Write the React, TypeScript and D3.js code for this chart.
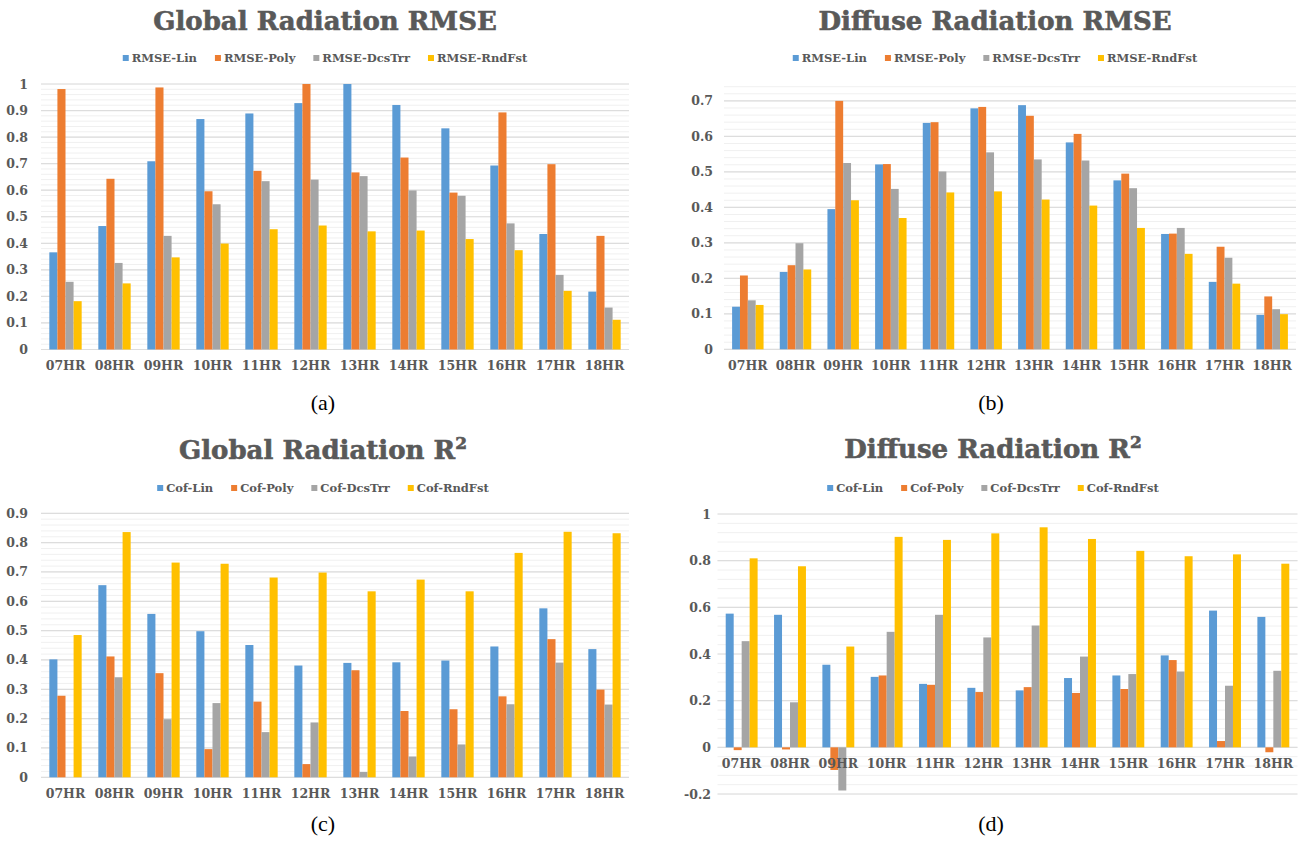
import React, { useRef, useEffect } from 'react';
import * as d3 from 'd3';

const hours = ['07HR', '08HR', '09HR', '10HR', '11HR', '12HR', '13HR', '14HR', '15HR', '16HR', '17HR', '18HR'];
const rmseNames = ['RMSE-Lin', 'RMSE-Poly', 'RMSE-DcsTrr', 'RMSE-RndFst'];
const cofNames = ['Cof-Lin', 'Cof-Poly', 'Cof-DcsTrr', 'Cof-RndFst'];
const colors = ['#5B9BD5', '#ED7D31', '#A5A5A5', '#FFC000'];

// (a) Global Radiation RMSE
const globalRmseLin = [0.366, 0.465, 0.709, 0.868, 0.889, 0.928, 1.0, 0.921, 0.833, 0.693, 0.435, 0.218];
const globalRmsePoly = [0.981, 0.643, 0.987, 0.596, 0.673, 1.0, 0.667, 0.723, 0.591, 0.893, 0.698, 0.428];
const globalRmseDcs = [0.255, 0.326, 0.428, 0.547, 0.634, 0.64, 0.653, 0.599, 0.579, 0.475, 0.281, 0.158];
const globalRmseRnd = [0.182, 0.249, 0.347, 0.399, 0.453, 0.467, 0.445, 0.448, 0.416, 0.374, 0.221, 0.112];

// (b) Diffuse Radiation RMSE
const diffuseRmseLin = [0.12, 0.218, 0.395, 0.521, 0.638, 0.679, 0.688, 0.583, 0.476, 0.325, 0.19, 0.097];
const diffuseRmsePoly = [0.208, 0.237, 0.7, 0.522, 0.64, 0.683, 0.658, 0.607, 0.495, 0.326, 0.289, 0.149];
const diffuseRmseDcs = [0.138, 0.299, 0.525, 0.452, 0.501, 0.555, 0.535, 0.532, 0.454, 0.342, 0.258, 0.113];
const diffuseRmseRnd = [0.125, 0.225, 0.42, 0.37, 0.442, 0.445, 0.422, 0.405, 0.342, 0.269, 0.185, 0.099];

// (c) Global Radiation R2
const globalCofLin = [0.402, 0.655, 0.557, 0.498, 0.451, 0.381, 0.39, 0.392, 0.398, 0.446, 0.576, 0.437];
const globalCofPoly = [0.278, 0.412, 0.355, 0.096, 0.258, 0.045, 0.365, 0.226, 0.232, 0.276, 0.471, 0.299];
const globalCofDcs = [0, 0.341, 0.198, 0.253, 0.154, 0.187, 0.018, 0.071, 0.112, 0.249, 0.391, 0.248];
const globalCofRnd = [0.485, 0.836, 0.732, 0.728, 0.681, 0.698, 0.634, 0.674, 0.634, 0.765, 0.837, 0.832];

// (d) Diffuse Radiation R2
const diffuseCofLin = [0.573, 0.568, 0.354, 0.302, 0.272, 0.255, 0.244, 0.297, 0.308, 0.394, 0.586, 0.559];
const diffuseCofPoly = [-0.012, -0.009, -0.097, 0.308, 0.268, 0.237, 0.258, 0.233, 0.25, 0.374, 0.027, -0.021];
const diffuseCofDcs = [0.455, 0.193, -0.185, 0.495, 0.568, 0.471, 0.522, 0.389, 0.314, 0.325, 0.264, 0.328];
const diffuseCofRnd = [0.81, 0.776, 0.432, 0.902, 0.889, 0.917, 0.943, 0.893, 0.842, 0.819, 0.827, 0.787];

const ticksA = [0, 0.1, 0.2, 0.3, 0.4, 0.5, 0.6, 0.7, 0.8, 0.9, 1];
const ticksB = [0, 0.1, 0.2, 0.3, 0.4, 0.5, 0.6, 0.7];
const ticksC = [0, 0.1, 0.2, 0.3, 0.4, 0.5, 0.6, 0.7, 0.8, 0.9];
const ticksD = [-0.2, 0, 0.2, 0.4, 0.6, 0.8, 1];

const panels = [
  {
    title: 'Global Radiation RMSE', sup: '', letter: '(a)', names: rmseNames,
    values: [globalRmseLin, globalRmsePoly, globalRmseDcs, globalRmseRnd],
    ticks: ticksA, domain: [0, 1], minor: 0.02,
    x: [41, 629], y: [349.5, 84], labelRight: 28, center: 325,
    titleY: 30, legendY: 58, xLabelY: 370, letterX: 323, letterY: 410,
  },
  {
    title: 'Diffuse Radiation RMSE', sup: '', letter: '(b)', names: rmseNames,
    values: [diffuseRmseLin, diffuseRmsePoly, diffuseRmseDcs, diffuseRmseRnd],
    ticks: ticksB, domain: [0, 0.74], minor: 0.02,
    x: [724, 1296], y: [349.3, 86.7], labelRight: 713, center: 995,
    titleY: 30, legendY: 58, xLabelY: 370, letterX: 991, letterY: 410,
  },
  {
    title: 'Global Radiation R', sup: '2', letter: '(c)', names: cofNames,
    values: [globalCofLin, globalCofPoly, globalCofDcs, globalCofRnd],
    ticks: ticksC, domain: [0, 0.9], minor: 0.02,
    x: [41, 629], y: [777.3, 513.3], labelRight: 28, center: 323,
    titleY: 459, legendY: 488, xLabelY: 798, letterX: 323, letterY: 831,
  },
  {
    title: 'Diffuse Radiation R', sup: '2', letter: '(d)', names: cofNames,
    values: [diffuseCofLin, diffuseCofPoly, diffuseCofDcs, diffuseCofRnd],
    ticks: ticksD, domain: [-0.2, 1], minor: 0.04,
    x: [717.5, 1297.5], y: [794, 514], labelRight: 711, center: 993,
    titleY: 458, legendY: 488, xLabelY: 768, letterX: 991, letterY: 831,
  },
];

const FONT = "'DejaVu Serif', serif";
const TEXT = '#595959';

const App = () => {
  const ref = useRef(null);

  useEffect(() => {
    const svg = d3.select(ref.current);
    svg.selectAll('*').remove();

    panels.forEach(p => {
      const g = svg.append('g');
      const y = d3.scaleLinear().domain(p.domain).range(p.y);
      const x0 = d3.scaleBand().domain(hours).range(p.x).paddingInner(0.34).paddingOuter(0.17);
      const x1 = d3.scaleBand().domain(p.names).range([0, x0.bandwidth()]);

      // minor gridlines
      const minors = d3.range(p.domain[0], p.domain[1] + 1e-9, p.minor);
      g.append('g').selectAll('line').data(minors).enter().append('line')
        .attr('x1', p.x[0]).attr('x2', p.x[1])
        .attr('y1', d => y(d)).attr('y2', d => y(d))
        .attr('stroke', '#F0F0F0').attr('stroke-width', 1);

      // major gridlines
      g.append('g').selectAll('line').data(p.ticks).enter().append('line')
        .attr('x1', p.x[0]).attr('x2', p.x[1])
        .attr('y1', d => y(d)).attr('y2', d => y(d))
        .attr('stroke', '#DDDDDD').attr('stroke-width', 1.2);

      // y labels
      g.append('g').selectAll('text').data(p.ticks).enter().append('text')
        .attr('x', p.labelRight).attr('y', d => y(d) + 4.5)
        .attr('text-anchor', 'end')
        .style('font-family', FONT).style('font-size', '12.5px').style('font-weight', 'bold')
        .attr('fill', TEXT)
        .text(d => String(d));

      // bars
      const groups = g.append('g').selectAll('g').data(hours).enter().append('g')
        .attr('transform', d => `translate(${x0(d)},0)`);
      groups.selectAll('rect')
        .data((d, i) => p.names.map((n, k) => ({ name: n, k, v: p.values[k][i] })))
        .enter().append('rect')
        .attr('x', d => x1(d.name))
        .attr('width', x1.bandwidth())
        .attr('y', d => Math.min(y(d.v), y(0)))
        .attr('height', d => Math.abs(y(d.v) - y(0)))
        .attr('fill', d => colors[d.k]);

      // x labels
      g.append('g').selectAll('text').data(hours).enter().append('text')
        .attr('x', d => x0(d) + x0.bandwidth() / 2).attr('y', p.xLabelY)
        .attr('text-anchor', 'middle')
        .style('font-family', FONT).style('font-size', '12.5px').style('font-weight', 'bold')
        .attr('fill', TEXT)
        .text(d => d);

      // title
      const t = g.append('text')
        .attr('x', p.center).attr('y', p.titleY)
        .attr('text-anchor', 'middle')
        .style('font-family', FONT).style('font-size', '26px').style('font-weight', 'bold')
        .attr('fill', TEXT).attr('stroke', TEXT).attr('stroke-width', 0.6);
      t.append('tspan').text(p.title);
      if (p.sup) t.append('tspan').attr('dy', -10).style('font-size', '17px').text(p.sup);

      // legend, laid out from measured text widths
      const leg = g.append('g');
      let cx = 0;
      p.names.forEach((n, k) => {
        leg.append('rect').attr('x', cx).attr('y', p.legendY - 3).attr('width', 6).attr('height', 6)
          .attr('fill', colors[k]);
        const txt = leg.append('text').attr('x', cx + 9).attr('y', p.legendY + 4)
          .style('font-family', FONT).style('font-size', '11.5px').style('font-weight', 'bold')
          .attr('fill', TEXT).text(n);
        cx += 9 + txt.node().getComputedTextLength() + 18;
      });
      const legW = cx - 18;
      leg.attr('transform', `translate(${p.center - legW / 2},0)`);

      // panel letter
      g.append('text')
        .attr('x', p.letterX).attr('y', p.letterY)
        .attr('text-anchor', 'middle')
        .style('font-family', "'Liberation Serif', serif").style('font-size', '22px')
        .attr('fill', '#000')
        .text(p.letter);
    });
  }, []);

  return (
    <svg ref={ref} width={1301} height={841}
      style={{ position: 'absolute', left: 0, top: 0, background: '#fff' }} />
  );
};

export default App;
